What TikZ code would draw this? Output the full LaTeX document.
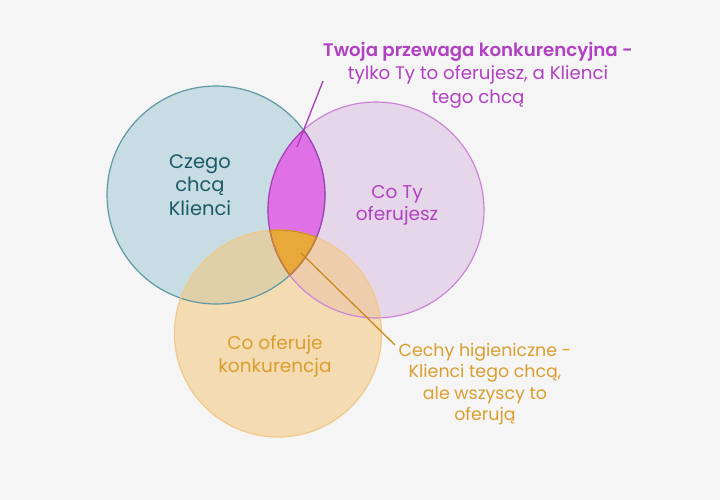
\documentclass[tikz,border=0pt]{standalone}
\usepackage{fontspec}
\setmainfont{Poppins}[BoldFont={Poppins SemiBold}]
\definecolor{bgGray}{HTML}{F5F5F5}
\definecolor{klientFill}{HTML}{C8DCE3}
\definecolor{klientLine}{HTML}{5E98A3}
\definecolor{klientText}{HTML}{1B5B66}
\definecolor{tyFill}{HTML}{E6D6E9}
\definecolor{tyLine}{HTML}{CC85D6}
\definecolor{tyText}{HTML}{B140C2}
\definecolor{lensFill}{HTML}{E070E6}
\definecolor{lensLine}{HTML}{A83CBA}
\definecolor{konkFill}{HTML}{F5C77A}
\definecolor{konkLine}{HTML}{F0C88A}
\definecolor{konkText}{HTML}{DA9E2E}
\definecolor{hygFill}{HTML}{E8A83A}
\definecolor{hygLine}{HTML}{C98A1F}
\tikzset{
  label/.style={align=center,inner sep=0pt},
  ring/.style={line width=1.2pt},
}
\begin{document}
\begin{tikzpicture}[x=1pt,y=-1pt]
  \fill[bgGray] (0,0) rectangle (720,500);
  % the three sets
  \def\klient{(216,195) circle[radius=109]}
  \def\ty{(376,210) circle[radius=108]}
  \def\konk{(278,333.5) circle[radius=103.5]}
  \fill[klientFill] \klient;
  \fill[tyFill] \ty;
  \begin{scope}
    \clip \klient;
    \fill[lensFill] \ty;
  \end{scope}
  \fill[konkFill,fill opacity=.55] \konk;
  \begin{scope}
    \clip \klient; \clip \ty;
    \fill[hygFill] \konk;
  \end{scope}
  \draw[ring,klientLine] \klient;
  \draw[ring,tyLine] \ty;
  \draw[ring,konkLine] \konk;
  \begin{scope}
    \clip \klient;
    \draw[ring,lensLine] \ty;
  \end{scope}
  \begin{scope}
    \clip \ty;
    \draw[ring,lensLine] \klient;
  \end{scope}
  \begin{scope}
    \clip \klient; \clip \ty;
    \draw[ring,hygLine] \konk;
  \end{scope}
  \begin{scope}
    \clip \konk;
    \begin{scope}
      \clip \klient;
      \draw[ring,hygLine] \ty;
    \end{scope}
    \clip \ty;
    \draw[ring,hygLine] \klient;
  \end{scope}
  % labels
  \node[label,text=klientText,font=\fontsize{19.5}{23.5}\selectfont] (klient) at (200,185) {Czego\\chcą\\Klienci};
  \node[label,text=tyText,font=\fontsize{18.5}{22}\selectfont] (ty) at (397,205) {Co Ty\\oferujesz};
  \node[label,text=konkText,font=\fontsize{18.5}{23}\selectfont] (konk) at (275,356) {Co oferuje\\konkurencja};
  \node[label,text=tyText,font=\fontsize{18.2}{23.5}\selectfont] (przewaga) at (478,75) {\textbf{Twoja przewaga konkurencyjna -}\\tylko Ty to oferujesz, a Klienci\\tego chcą};
  \node[label,text=konkText,font=\fontsize{17.4}{21.3}\selectfont] (higiena) at (485,384) {Cechy higieniczne -\\Klienci tego chcą,\\ale wszyscy to\\oferują};
  % pointers
  \coordinate (lensPt) at (297,147);
  \coordinate (przewagaEnd) at (323,81);
  \coordinate (hygPt) at (301,253);
  \coordinate (higienaEnd) at (395,345);
  \draw[lensLine,line width=1.3pt] (przewagaEnd) -- (lensPt);
  \draw[hygLine,line width=1.3pt] (hygPt) -- (higienaEnd);
\end{tikzpicture}
\end{document}
